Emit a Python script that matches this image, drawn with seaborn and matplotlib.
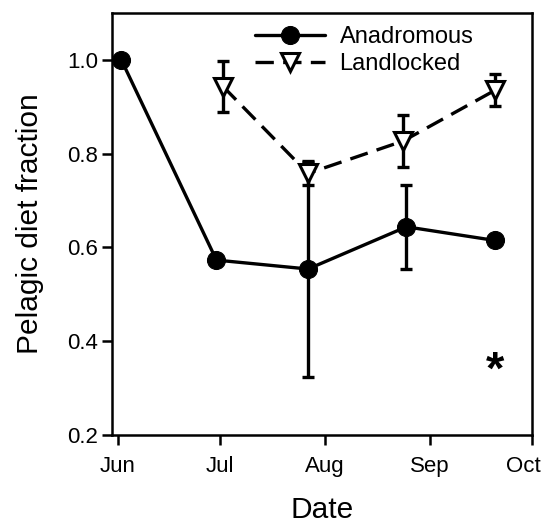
import matplotlib
matplotlib.use("Agg")
import matplotlib.pyplot as plt
import matplotlib.transforms as mtransforms
import numpy as np
import pandas as pd
import seaborn as sns

# ---- data ----
anad_dates = ["2000-06-02", "2000-06-30", "2000-07-27", "2000-08-25", "2000-09-20"]
anad_vals = [1.0, 0.573, 0.554, 0.644, 0.615]
anad_err = [0.0, 0.0, 0.23, 0.09, 0.0]

land_dates = ["2000-07-02", "2000-07-27", "2000-08-24", "2000-09-20"]
land_vals = [0.943, 0.758, 0.827, 0.935]
land_err = [0.055, 0.025, 0.055, 0.034]

month_ticks = ["2000-06-01", "2000-07-01", "2000-08-01", "2000-09-01", "2000-10-01"]
month_labels = ["Jun", "Jul", "Aug", "Sep", "Oct"]
y_ticks = [0.2, 0.4, 0.6, 0.8, 1.0]

sns.set_theme(style="ticks")
plt.rcParams["font.family"] = ["Liberation Sans", "DejaVu Sans"]
plt.rcParams["text.color"] = "black"
plt.rcParams["axes.labelcolor"] = "black"
plt.rcParams["xtick.color"] = "black"
plt.rcParams["ytick.color"] = "black"

anad = pd.DataFrame({"date": pd.to_datetime(anad_dates), "val": anad_vals,
                     "err": anad_err, "group": "Anadromous"})
land = pd.DataFrame({"date": pd.to_datetime(land_dates), "val": land_vals,
                     "err": land_err, "group": "Landlocked"})

fig = plt.figure(figsize=(5.44, 5.24), dpi=100)
ax = fig.add_axes([0.206, 0.170, 0.772, 0.805])

lw = 2.4
# error bars
for df in (anad, land):
    m = df["err"] > 0
    ax.errorbar(df.loc[m, "date"], df.loc[m, "val"], yerr=df.loc[m, "err"],
                fmt="none", ecolor="black", elinewidth=lw, capsize=4.5,
                capthick=lw, zorder=2)

sns.lineplot(data=anad, x="date", y="val", ax=ax, color="black", lw=lw,
             marker="o", markersize=13, markerfacecolor="black",
             markeredgecolor="black", label="Anadromous", zorder=3)
sns.lineplot(data=land, x="date", y="val", ax=ax, color="black", lw=lw,
             marker="v", markersize=13, markerfacecolor="white",
             markeredgecolor="black", markeredgewidth=2.2,
             label="Landlocked", zorder=4)
for line in ax.get_lines():
    if line.get_label() == "Landlocked":
        line.set_dashes((5.5, 2.8))

ax.set_xlim(pd.Timestamp("2000-05-30 06:00"), pd.Timestamp("2000-10-01"))
ax.set_ylim(0.2, 1.1)
ax.set_xticks(pd.to_datetime(month_ticks))
ax.set_xticklabels(month_labels)
ax.set_yticks(y_ticks)
ax.set_yticklabels([f"{v:.1f}" for v in y_ticks])

ax.tick_params(axis="both", direction="out", length=7, width=1.8,
               labelsize=16, colors="black", pad=3)
ax.tick_params(axis="x", pad=8)
for s in ax.spines.values():
    s.set_visible(True)
    s.set_linewidth(1.8)
    s.set_color("black")

# nudge the last tick label so it stays inside the figure
last = ax.get_xticklabels()[-1]
last.set_transform(last.get_transform() +
                   mtransforms.ScaledTranslation(-6 / 72, 0, fig.dpi_scale_trans))

ax.set_xlabel("Date", fontsize=21.5, labelpad=14)
ax.set_ylabel("Pelagic diet fraction", fontsize=21.5, labelpad=17)

ax.text(pd.Timestamp("2000-09-20"), 0.335, "*", fontsize=34, fontweight="bold",
        ha="center", va="center")

leg = ax.legend(loc="upper left", bbox_to_anchor=(0.30, 1.008), frameon=False,
                fontsize=17, handlelength=3.0, handletextpad=0.6,
                labelspacing=0.2, borderaxespad=0.3)

fig.savefig("out.png", dpi=100)
